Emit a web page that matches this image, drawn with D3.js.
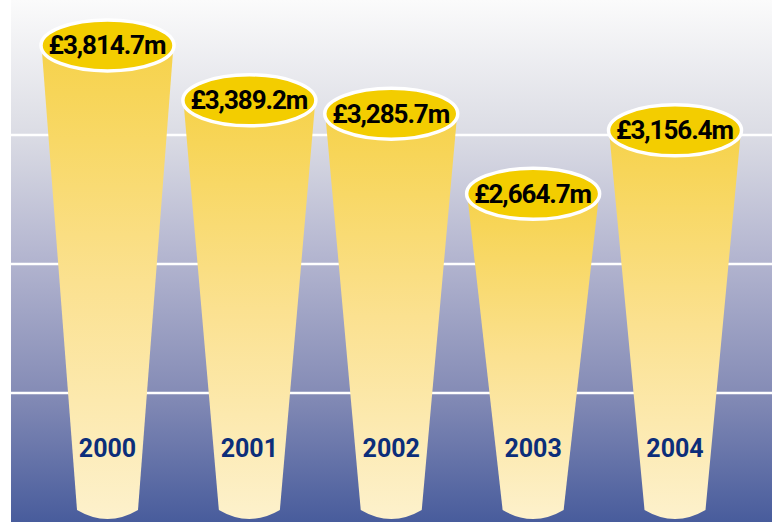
<!DOCTYPE html>
<html>
<head>
<meta charset="utf-8">
<script src="https://cdn.jsdelivr.net/npm/d3@7"></script>
<style>
  html, body { margin: 0; padding: 0; background: #fff; }
  svg { display: block; }
  text { font-family: Roboto, "Liberation Sans", sans-serif; font-weight: 700; }
</style>
</head>
<body>
<svg id="chart" width="772" height="522"></svg>
<script>
// datos del gráfico
const years = ["2000", "2001", "2002", "2003", "2004"];
const values = [3814.7, 3389.2, 3285.7, 2664.7, 3156.4];
const labels = ["£3,814.7m", "£3,389.2m", "£3,285.7m", "£2,664.7m", "£3,156.4m"];
const gridValues = [1000, 2000, 3000];

const svg = d3.select("#chart"),
    width = +svg.attr("width"),
    height = +svg.attr("height");

const left = 11;

// escalas
const x = d3.scalePoint().domain(years).range([107.5, 675]);
const y = d3.scaleLinear().domain([0, 4000]).range([height, 6]);

const topOffset = 15.5;    // centro de la elipse respecto al valor
const bottomY = y(0) - 12; // fondo de los conos
const topHalf = 66, botHalf = 30.5;

const defs = svg.append("defs");

// fondo degradado
const bg = defs.append("linearGradient").attr("id", "bg")
    .attr("x1", 0).attr("y1", 0).attr("x2", 0).attr("y2", 1);
bg.append("stop").attr("offset", "0").attr("stop-color", "#fbfbfb");
bg.append("stop").attr("offset", "0.25").attr("stop-color", "#dcdde5");
bg.append("stop").attr("offset", "0.5").attr("stop-color", "#b2b4cf");
bg.append("stop").attr("offset", "0.75").attr("stop-color", "#858cb6");
bg.append("stop").attr("offset", "1").attr("stop-color", "#485c9c");

// degradado de los conos
const bar = defs.append("linearGradient").attr("id", "bar")
    .attr("x1", 0).attr("y1", 0).attr("x2", 0).attr("y2", 1);
bar.append("stop").attr("offset", "0").attr("stop-color", "#f6d24a");
bar.append("stop").attr("offset", "0.5").attr("stop-color", "#fbe190");
bar.append("stop").attr("offset", "1").attr("stop-color", "#fdf1cc");

svg.append("rect")
    .attr("x", left).attr("y", 0)
    .attr("width", width - left).attr("height", height)
    .attr("fill", "url(#bg)");

// líneas de la cuadrícula
svg.append("g").attr("class", "grid")
  .selectAll("line")
  .data(gridValues)
  .join("line")
    .attr("x1", left).attr("x2", width)
    .attr("y1", d => y(d)).attr("y2", d => y(d))
    .attr("stroke", "#fff")
    .attr("stroke-width", 2.5);

const data = years.map((yr, i) => ({ year: yr, value: values[i], label: labels[i] }));

const g = svg.append("g").selectAll("g")
  .data(data)
  .join("g");

// cuerpo del cono
g.append("path")
    .attr("fill", "url(#bar)")
    .attr("d", d => {
        const cx = x(d.year), cy = y(d.value) + topOffset;
        return `M${cx - topHalf},${cy}` +
            `L${cx - botHalf},${bottomY}` +
            `Q${cx},${bottomY + 18} ${cx + botHalf},${bottomY}` +
            `L${cx + topHalf},${cy}Z`;
    });

// tapa superior
g.append("ellipse")
    .attr("cx", d => x(d.year))
    .attr("cy", d => y(d.value) + topOffset)
    .attr("rx", 66.5)
    .attr("ry", 25.5)
    .attr("fill", "#f3cd00")
    .attr("stroke", "#fff")
    .attr("stroke-width", 3.5);

g.append("text")
    .attr("x", d => x(d.year))
    .attr("y", d => y(d.value) + topOffset + 9)
    .attr("text-anchor", "middle")
    .attr("font-size", 26)
    .attr("textLength", 118)
    .attr("fill", "#000")
    .text(d => d.label);

// etiquetas de año
g.append("text")
    .attr("x", d => x(d.year))
    .attr("y", 457)
    .attr("text-anchor", "middle")
    .attr("font-size", 25)
    .attr("fill", "#0c2e7a")
    .text(d => d.year);
</script>
</body>
</html>
